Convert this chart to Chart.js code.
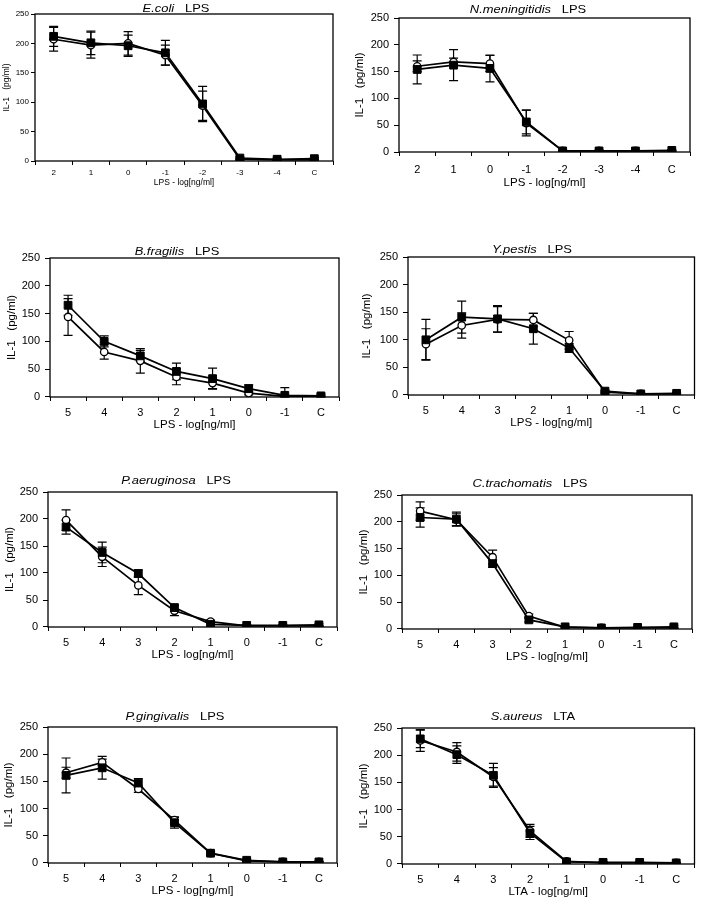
<!DOCTYPE html>
<html>
<head>
<meta charset="utf-8">
<script src="https://cdn.jsdelivr.net/npm/chart.js@4.4.1/dist/chart.umd.min.js"></script>
<style>
  body { margin: 0; background: #fff; }
  #page { position: relative; width: 701px; height: 900px; overflow: hidden; }
  canvas { position: absolute; }
  .ttl {
    position: absolute; width: 300px; height: 14px; line-height: 14px;
    text-align: center; white-space: pre; color: #000;
    font-family: "Liberation Sans", Arial, sans-serif; font-size: 10.5px;
    transform: scaleX(1.23);
  }
</style>
</head>
<body>
<div id="page"></div>
<script>
// dose labels on the x axis
const ecoliDoses = ['2', '1', '0', '-1', '-2', '-3', '-4', 'C'];
const lpsDoses = ['5', '4', '3', '2', '1', '0', '-1', 'C'];

// IL-1 (pg/ml), filled squares and open circles, with error bars
const ecoliSquare = [212, 201, 196, 184, 97, 5, 3, 4];
const ecoliSquareErr = [17, 20, 18, 21, 30, 2, 2, 2];
const ecoliCircle = [207, 197, 200, 180, 94, 3, 2, 2];
const ecoliCircleErr = [20, 22, 20, 17, 25, 2, 1, 1];

const nmSquare = [154, 162, 156, 56, 2, 2, 2, 3];
const nmSquareErr = [27, 29, 25, 22, 1, 1, 1, 1];
const nmCircle = [160, 168, 165, 54, 2, 2, 2, 2];
const nmCircleErr = [10, 7, 15, 24, 1, 1, 1, 1];

const bfSquare = [165, 100, 74, 46, 33, 15, 3, 2];
const bfSquareErr = [18, 10, 10, 15, 19, 7, 14, 3];
const bfCircle = [144, 81, 65, 36, 25, 7, 1, 1];
const bfCircleErr = [33, 13, 22, 14, 10, 3, 2, 1];

const ypSquare = [100, 141, 138, 120, 85, 7, 2, 3];
const ypSquareErr = [37, 29, 24, 28, 8, 2, 1, 2];
const ypCircle = [92, 126, 137, 136, 99, 5, 2, 2];
const ypCircleErr = [28, 23, 23, 12, 16, 2, 1, 1];

const paSquare = [185, 138, 99, 36, 5, 3, 3, 4];
const paSquareErr = [13, 19, 7, 5, 2, 1, 1, 2];
const paCircle = [198, 130, 77, 30, 10, 2, 2, 2];
const paCircleErr = [19, 18, 17, 9, 3, 1, 1, 1];

const ctSquare = [208, 205, 122, 17, 4, 2, 3, 4];
const ctSquareErr = [18, 13, 7, 4, 1, 1, 1, 3];
const ctCircle = [220, 204, 134, 24, 3, 2, 2, 2];
const ctCircleErr = [17, 11, 13, 4, 1, 1, 1, 1];

const pgSquare = [161, 175, 147, 74, 18, 5, 2, 2];
const pgSquareErr = [32, 21, 8, 10, 3, 2, 1, 1];
const pgCircle = [166, 185, 136, 79, 18, 4, 2, 2];
const pgCircleErr = [10, 6, 6, 6, 3, 2, 1, 1];

const saSquare = [230, 201, 163, 57, 4, 3, 3, 2];
const saSquareErr = [16, 16, 22, 12, 2, 1, 1, 1];
const saCircle = [227, 206, 160, 61, 5, 2, 2, 2];
const saCircleErr = [20, 17, 17, 12, 2, 1, 1, 1];

const yTicks = [0, 50, 100, 150, 200, 250];

const FONT = '"Liberation Sans", Arial, sans-serif';

// draws the vertical error bars with caps under the markers
const errorBars = {
  id: 'errorBars',
  beforeDatasetsDraw(chart) {
    const ctx = chart.ctx;
    const y = chart.scales.y;
    ctx.save();
    ctx.strokeStyle = '#000';
    ctx.lineWidth = 1.2;
    chart.data.datasets.forEach((ds, i) => {
      chart.getDatasetMeta(i).data.forEach((pt, j) => {
        const v = ds.data[j];
        const e = ds.errors[j];
        const top = y.getPixelForValue(v + e);
        const bot = y.getPixelForValue(Math.max(0, v - e));
        ctx.beginPath();
        ctx.moveTo(pt.x, top); ctx.lineTo(pt.x, bot);
        ctx.moveTo(pt.x - 4.5, top); ctx.lineTo(pt.x + 4.5, top);
        ctx.moveTo(pt.x - 4.5, bot); ctx.lineTo(pt.x + 4.5, bot);
        ctx.stroke();
      });
    });
    ctx.restore();
  }
};

// box round the plot area
const frame = {
  id: 'frame',
  beforeDatasetsDraw(chart) {
    const {ctx, chartArea: a} = chart;
    ctx.save();
    ctx.strokeStyle = '#000';
    ctx.lineWidth = 1.3;
    ctx.strokeRect(a.left, a.top, a.right - a.left, a.bottom - a.top);
    ctx.restore();
  }
};

const page = document.getElementById('page');

function makePanel(p) {
  const canvas = document.createElement('canvas');
  canvas.width = p.w; canvas.height = p.h;
  canvas.style.left = p.left + 'px';
  canvas.style.top = p.top + 'px';
  page.appendChild(canvas);

  const t = document.createElement('div');
  t.className = 'ttl';
  t.style.left = (p.titleX - 150) + 'px';
  t.style.top = (p.titleY - 7) + 'px';
  t.innerHTML = '<i>' + p.name + '</i>   ' + p.agent;
  page.appendChild(t);

  const tickFs = p.tickFs || 11;
  const axisFs = p.axisFs || 11.5;
  const lh = axisFs * 1.2;
  const xh = p.xTitleY - p.B + lh / 2;
  const tickLen = p.tickLen || 4;

  new Chart(canvas, {
    type: 'line',
    data: {
      labels: p.labels,
      datasets: [
        {
          data: p.square, errors: p.squareErr,
          borderColor: '#000', borderWidth: 1.7,
          pointStyle: 'rect', pointRadius: 5.5,
          pointBackgroundColor: '#000', pointBorderColor: '#000', pointBorderWidth: 1
        },
        {
          data: p.circle, errors: p.circleErr,
          borderColor: '#000', borderWidth: 1.7,
          pointStyle: 'circle', pointRadius: 3.7,
          pointBackgroundColor: '#fff', pointBorderColor: '#000', pointBorderWidth: 1.3
        }
      ]
    },
    options: {
      responsive: false,
      animation: false,
      devicePixelRatio: 1,
      layout: {
        padding: {
          left: 0,
          top: p.T - p.top,
          right: p.left + p.w - p.R,
          bottom: p.top + p.h - (p.B + xh)
        }
      },
      plugins: { legend: { display: false }, tooltip: { enabled: false } },
      scales: {
        x: {
          offset: true,
          border: { display: false },
          grid: { drawOnChartArea: false, offset: true, tickLength: tickLen, color: '#000' },
          ticks: {
            color: '#000', font: { family: FONT, size: tickFs },
            padding: p.xLabelY - p.B - tickLen - tickFs * 0.6,
            maxRotation: 0, autoSkip: false
          },
          title: {
            display: true, text: p.xTitle, color: '#000',
            font: { family: FONT, size: axisFs }, padding: 0
          },
          afterFit(s) { s.height = xh; }
        },
        y: {
          min: 0, max: 250,
          border: { display: false },
          grid: { drawOnChartArea: false, tickLength: p.yTickLen || 5, color: '#000' },
          afterBuildTicks(s) { s.ticks = yTicks.map(v => ({ value: v })); },
          ticks: { color: '#000', font: { family: FONT, size: tickFs }, padding: p.yPad || 5 },
          title: {
            display: true, text: 'IL-1   (pg/ml)', color: '#000',
            font: { family: FONT, size: axisFs },
            padding: { top: p.yTitleX - p.left - lh / 2, bottom: 0 }
          },
          afterFit(s) { s.width = p.L - p.left; }
        }
      }
    },
    plugins: [frame, errorBars]
  });
}

const lpsTitle = 'LPS - log[ng/ml]';

makePanel({ name: 'E.coli', agent: 'LPS', labels: ecoliDoses,
  square: ecoliSquare, squareErr: ecoliSquareErr, circle: ecoliCircle, circleErr: ecoliCircleErr,
  xTitle: lpsTitle, left: 0, top: 0, w: 350, h: 195,
  L: 35, T: 14, R: 333, B: 161, xLabelY: 173, xTitleY: 183, yTitleX: 7,
  titleX: 176, titleY: 8, tickFs: 8, axisFs: 8.5, yTickLen: 4, yPad: 2 });

makePanel({ name: 'N.meningitidis', agent: 'LPS', labels: ecoliDoses,
  square: nmSquare, squareErr: nmSquareErr, circle: nmCircle, circleErr: nmCircleErr,
  xTitle: lpsTitle, left: 350, top: 0, w: 351, h: 195,
  L: 399, T: 18, R: 690, B: 152, xLabelY: 170, xTitleY: 183, yTitleX: 360,
  titleX: 528, titleY: 8.5 });

makePanel({ name: 'B.fragilis', agent: 'LPS', labels: lpsDoses,
  square: bfSquare, squareErr: bfSquareErr, circle: bfCircle, circleErr: bfCircleErr,
  xTitle: lpsTitle, left: 0, top: 225, w: 350, h: 210,
  L: 50, T: 258, R: 339, B: 397, xLabelY: 413, xTitleY: 425, yTitleX: 12,
  titleX: 177, titleY: 250.5 });

makePanel({ name: 'Y.pestis', agent: 'LPS', labels: lpsDoses,
  square: ypSquare, squareErr: ypSquareErr, circle: ypCircle, circleErr: ypCircleErr,
  xTitle: lpsTitle, left: 350, top: 225, w: 351, h: 210,
  L: 408, T: 257, R: 695, B: 395, xLabelY: 411, xTitleY: 423, yTitleX: 367,
  titleX: 532, titleY: 248.5 });

makePanel({ name: 'P.aeruginosa', agent: 'LPS', labels: lpsDoses,
  square: paSquare, squareErr: paSquareErr, circle: paCircle, circleErr: paCircleErr,
  xTitle: lpsTitle, left: 0, top: 460, w: 350, h: 210,
  L: 48, T: 492, R: 337, B: 627, xLabelY: 643, xTitleY: 655, yTitleX: 10,
  titleX: 176, titleY: 479.5 });

makePanel({ name: 'C.trachomatis', agent: 'LPS', labels: lpsDoses,
  square: ctSquare, squareErr: ctSquareErr, circle: ctCircle, circleErr: ctCircleErr,
  xTitle: lpsTitle, left: 350, top: 460, w: 351, h: 210,
  L: 402, T: 495, R: 692, B: 629, xLabelY: 645, xTitleY: 657, yTitleX: 364,
  titleX: 530, titleY: 483 });

makePanel({ name: 'P.gingivalis', agent: 'LPS', labels: lpsDoses,
  square: pgSquare, squareErr: pgSquareErr, circle: pgCircle, circleErr: pgCircleErr,
  xTitle: lpsTitle, left: 0, top: 695, w: 350, h: 205,
  L: 48, T: 727, R: 337, B: 863, xLabelY: 879, xTitleY: 891, yTitleX: 9,
  titleX: 175, titleY: 715.5 });

makePanel({ name: 'S.aureus', agent: 'LTA', labels: lpsDoses,
  square: saSquare, squareErr: saSquareErr, circle: saCircle, circleErr: saCircleErr,
  xTitle: 'LTA - log[ng/ml]', left: 350, top: 695, w: 351, h: 205,
  L: 402, T: 728, R: 699, B: 864, xLabelY: 880, xTitleY: 892, yTitleX: 364,
  titleX: 533, titleY: 716 });
</script>
</body>
</html>
